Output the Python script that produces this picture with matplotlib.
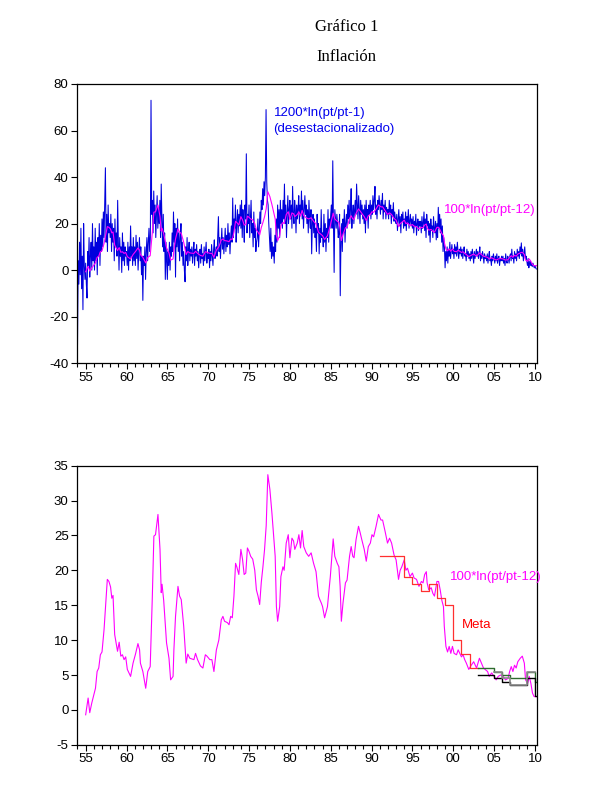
import matplotlib
matplotlib.use("Agg")
import matplotlib.pyplot as plt
from matplotlib.ticker import FixedLocator, MultipleLocator, FuncFormatter
import numpy as np

# ---------------- data ----------------
# Monthly inflation, 1200*ln(pt/pt-1), seasonally adjusted, Jan 1954 .. Mar 2010
blue_start = 1954.0
blue_monthly = [
    -32, 4, -6, 12, -2, 18, -8, 6, -17, 20, 2, -4,          # 1954
    3, -6, -12, 8, 2, 14, -3, 6, 12, 0, 20, 4,              # 1955
    10, 0, 18, 4, 12, -2, 14, 6, 20, 2, 15, 8,              # 1956
    22, 10, 25, 14, 30, 44, 12, 24, 8, 28, 16, 20,          # 1957
    14, 24, 8, 20, 12, 18, 4, 22, 10, 16, 6, 30,            # 1958
    12, 0, 14, 6, 10, -1, 16, 4, 12, 2, 10, 6,              # 1959
    8, 2, 12, 0, 10, 4, 19, 6, 10, 2, 14, 4,                # 1960
    10, 2, 15, 5, 12, 0, 8, 14, 4, 10, -2, 6,               # 1961
    -13, 6, 2, 10, -4, 8, 14, 4, 12, 18, 8, 14,             # 1962
    73, 24, 30, 16, 34, 20, 28, 14, 24, 32, 18, 26,         # 1963
    20, 30, 14, 37, 22, 10, 24, 8, 16, -4, 12, 4,           # 1964
    -4, 8, 2, 12, 0, 10, 6, 16, 8, 25, 12, 20,              # 1965
    -3, 18, 10, 22, 8, 16, 4, 14, 20, 6, 12, 2,             # 1966
    8, 0, -5, 10, 4, 14, 2, 8, 12, 4, 9, 6,                 # 1967
    10, 3, 8, 12, 2, 9, 6, 11, 4, 8, 1, 7,                  # 1968
    9, 3, 11, 5, 7, 2, 10, 4, 8, 12, 3, 7,                  # 1969
    5, 9, 1, 8, 4, 11, 6, 2, 9, 13, 5, 8,                   # 1970
    10, 6, 15, 23, 8, 14, 5, 12, 18, 9, 14, 7,              # 1971
    12, 18, 8, 15, 10, 20, 11, 16, 7, 14, 19, 12,           # 1972
    31, 14, 22, 18, 28, 12, 20, 26, 16, 24, 19, 28,         # 1973
    18, 30, 14, 26, 20, 12, 28, 22, 50, 16, 24, 20,         # 1974
    28, 14, 22, 30, 16, 20, 10, 25, 14, 18, 8, 12,          # 1975
    14, 22, 10, 18, 25, 20, 30, 26, 35, 28, 38, 32,         # 1976
    40, 69, 38, 30, 28, 20, 14, 8, 18, 5, 12, 6,            # 1977
    10, 3, 15, 8, 22, 12, 28, 18, 26, 14, 30, 20,           # 1978
    26, 18, 30, 22, 37, 20, 28, 14, 24, 32, 20, 26,         # 1979
    30, 22, 28, 18, 36, 24, 20, 30, 26, 16, 28, 22,         # 1980
    26, 32, 20, 28, 24, 34, 22, 30, 18, 26, 32, 24,         # 1981
    28, 20, 26, 16, 30, 22, 18, 26, 7, 20, 24, 16,          # 1982
    22, 14, 18, 8, 24, 16, 20, 7, 18, 12, 26, 14,           # 1983
    16, 10, 24, 12, 20, 8, 18, 14, 26, 12, 22, 18,          # 1984
    24, 28, 18, 47, 20, -1, 26, 22, 18, 24, 20, 14,         # 1985
    16, 24, -11, 12, 20, 8, 22, 16, 26, 12, 20, 24,         # 1986
    18, 28, 22, 30, 20, 26, 35, 18, 24, 28, 20, 26,         # 1987
    30, 24, 37, 28, 22, 32, 26, 20, 30, 24, 28, 22,         # 1988
    26, 20, 28, 16, 30, 22, 26, 18, 28, 24, 30, 22,         # 1989
    28, 24, 32, 26, 30, 36, 24, 28, 22, 30, 26, 32,         # 1990
    28, 24, 30, 26, 33, 22, 28, 25, 30, 22, 27, 24,         # 1991
    26, 22, 30, 24, 28, 20, 26, 23, 29, 21, 25, 22,         # 1992
    20, 24, 17, 22, 26, 19, 23, 16, 24, 21, 25, 18,         # 1993
    22, 19, 25, 17, 23, 20, 26, 18, 21, 24, 19, 22,         # 1994
    18, 23, 16, 21, 19, 24, 15, 20, 22, 17, 21, 19,         # 1995
    21, 16, 23, 18, 20, 25, 17, 22, 14, 24, 19, 21,         # 1996
    15, 20, 12, 22, 17, 19, 14, 23, 18, 16, 21, 13,         # 1997
    20, 14, 27, 18, 24, 16, 22, 12, 19, 8, 14, 10,          # 1998
    1, 8, 4, 10, 3, 9, 6, 12, 5, 8, 11, 7,                  # 1999
    9, 5, 11, 7, 10, 6, 12, 8, 5, 9, 7, 10,                 # 2000
    6, 9, 5, 8, 10, 6, 7, 4, 9, 6, 8, 5,                    # 2001
    7, 4, 8, 5, 9, 6, 3, 8, 5, 7, 9, 6,                     # 2002
    8, 5, 7, 10, 4, 7, 5, 8, 6, 3, 7, 5,                    # 2003
    6, 4, 7, 3, 6, 8, 4, 5, 2, 6, 4, 7,                     # 2004
    5, 3, 6, 4, 7, 3, 5, 6, 2, 5, 4, 6,                     # 2005
    4, 6, 3, 5, 2, 7, 4, 3, 6, 5, 3, 6,                     # 2006
    7, 4, 9, 5, 6, 3, 8, 5, 7, 4, 9, 6,                     # 2007
    8, 5, 10, 7, 11.7, 6, 9, 4, 7, 10, 5, 6,                # 2008
    4, 2, 5, 1, 3, 4, 2, 3, 1.5, 3, 2, 1,                   # 2009
    2, 1, 0.5,                                              # 2010
]

# 12-month inflation, 100*ln(pt/pt-12)
pink_years = [1955.0, 1955.3, 1955.5, 1955.75, 1956.2, 1956.4, 1956.6, 1956.8, 1957.0, 1957.25,
              1957.65, 1957.85, 1958.05, 1958.2, 1958.35, 1958.55, 1958.9, 1959.1, 1959.3, 1959.5,
              1959.7, 1959.9, 1960.1, 1960.3, 1960.5, 1960.8, 1961.1, 1961.4, 1961.6, 1961.7,
              1962.0, 1962.35, 1962.6, 1962.9, 1963.15, 1963.35, 1963.55, 1963.85, 1964.1, 1964.25,
              1964.35, 1964.55, 1964.9, 1965.2, 1965.4, 1965.7, 1965.8, 1966.0, 1966.3, 1966.5,
              1966.7, 1967.0, 1967.3, 1967.5, 1967.75, 1968.25, 1968.45, 1968.7, 1969.05, 1969.35,
              1969.65, 1969.85, 1970.2, 1970.45, 1970.7, 1971.0, 1971.3, 1971.6, 1971.8, 1972.0,
              1972.35, 1972.55, 1972.75, 1972.95, 1973.15, 1973.35, 1973.5, 1973.75, 1974.0, 1974.2,
              1974.4, 1974.6, 1974.8, 1975.0, 1975.2, 1975.45, 1975.7, 1975.9, 1976.1, 1976.3,
              1976.5, 1976.7, 1976.9, 1977.1, 1977.3, 1977.55, 1977.8, 1978.0, 1978.2, 1978.35,
              1978.5, 1978.75, 1978.9, 1979.15, 1979.3, 1979.55, 1979.8, 1980.0, 1980.25, 1980.45,
              1980.6, 1980.9, 1981.1, 1981.3, 1981.5, 1981.7, 1982.0, 1982.3, 1982.6, 1982.9,
              1983.2, 1983.5, 1983.7, 1983.85, 1984.0, 1984.25, 1984.45, 1984.6, 1984.95, 1985.3,
              1985.5, 1985.8, 1986.0, 1986.15, 1986.3, 1986.5, 1986.8, 1987.0, 1987.3, 1987.5,
              1987.7, 1987.85, 1988.1, 1988.4, 1988.6, 1988.8, 1989.1, 1989.35, 1989.6, 1989.85,
              1990.05, 1990.25, 1990.55, 1990.85, 1991.15, 1991.35, 1991.65, 1991.95, 1992.2, 1992.45,
              1992.75, 1993.0, 1993.3, 1993.5, 1993.7, 1994.0, 1994.2, 1994.4, 1994.7, 1995.0,
              1995.2, 1995.5, 1995.8, 1996.1, 1996.3, 1996.5, 1996.7, 1996.8, 1997.0, 1997.3,
              1997.5, 1997.7, 1998.0, 1998.2, 1998.4, 1998.6, 1998.8, 1998.9, 1999.1, 1999.3,
              1999.5, 1999.7, 1999.9, 2000.1, 2000.4, 2000.6, 2000.8, 2001.0, 2001.2, 2001.4,
              2001.6, 2001.9, 2002.2, 2002.5, 2002.85, 2003.2, 2003.45, 2003.7, 2003.9, 2004.2,
              2004.4, 2004.7, 2005.0, 2005.25, 2005.5, 2005.8, 2006.1, 2006.4, 2006.7, 2006.9,
              2007.1, 2007.3, 2007.5, 2007.7, 2007.9, 2008.2, 2008.45, 2008.7, 2008.85, 2009.1,
              2009.3, 2009.5, 2009.7, 2009.9, 2010.2]
pink_values = [-0.7, 1.7, -0.4, 1.0, 3.1, 5.5, 6.0, 7.9, 8.3, 11.5,
               18.7, 18.4, 17.6, 16.0, 16.4, 10.8, 8.4, 9.7, 7.7, 7.9,
               7.2, 7.6, 5.8, 5.3, 4.8, 6.7, 8.0, 9.5, 8.6, 6.7,
               5.5, 3.1, 5.5, 6.2, 15.8, 24.9, 25.1, 28.0, 23.0, 16.8,
               18.0, 15.7, 9.6, 7.4, 4.3, 4.8, 8.6, 13.4, 17.7, 16.3,
               15.8, 12.0, 6.7, 8.0, 7.4, 7.2, 8.1, 7.2, 6.3, 6.0,
               7.9, 7.7, 7.2, 7.2, 5.5, 8.6, 10.0, 12.9, 13.4, 12.7,
               12.5, 12.2, 13.4, 13.2, 16.3, 21.0, 20.5, 19.4, 23.0, 21.6,
               19.4, 19.6, 23.2, 22.7, 22.0, 21.6, 20.0, 17.2, 16.3, 15.1,
               18.3, 20.5, 23.0, 26.4, 33.7, 31.6, 28.2, 25.2, 22.0, 14.8,
               12.7, 14.8, 19.1, 20.5, 20.0, 23.9, 25.1, 21.8, 24.6, 24.2,
               23.0, 23.9, 25.1, 23.2, 25.7, 23.4, 22.5, 22.0, 22.5, 21.0,
               19.8, 16.3, 15.7, 15.3, 14.8, 13.2, 14.1, 14.8, 19.1, 24.5,
               22.0, 21.0, 20.5, 17.7, 12.7, 15.3, 18.2, 18.6, 22.0, 23.4,
               22.0, 21.8, 24.4, 26.3, 25.4, 24.4, 23.0, 21.3, 23.4, 23.9,
               25.1, 24.8, 26.3, 28.0, 27.2, 27.2, 25.6, 23.9, 24.6, 23.9,
               22.2, 21.5, 18.7, 20.0, 20.5, 21.5, 20.0, 20.3, 19.1, 19.6,
               18.9, 18.7, 17.7, 18.4, 18.2, 19.4, 19.8, 18.2, 17.2, 17.5,
               16.7, 16.3, 18.4, 18.4, 17.2, 15.7, 14.8, 12.0, 9.1, 8.3,
               9.1, 8.1, 9.1, 8.1, 7.9, 8.6, 8.1, 7.6, 7.9, 7.2,
               6.7, 5.8, 6.4, 6.9, 6.0, 7.4, 6.7, 6.0, 5.8, 5.5,
               4.8, 5.3, 4.8, 4.3, 4.8, 5.0, 4.8, 4.3, 4.5, 5.5,
               6.2, 5.5, 6.4, 6.0, 6.9, 7.4, 7.7, 6.7, 4.3, 3.8,
               4.8, 3.8, 2.4, 1.9, 1.9]

# Inflation target (Meta), point targets 1991-2002
meta_years = [1991, 1992, 1993, 1994, 1995, 1996, 1997, 1998, 1999, 2000, 2001, 2002]
meta_values = [22, 22, 22, 19, 18, 17, 18, 16, 15, 10, 8, 6]
# Target range 2003-2010
band_years = [2003, 2004, 2005, 2006, 2007, 2008, 2009, 2010]
band_upper = [6, 6, 5.5, 5, 4.5, 4.5, 5.5, 4]
band_lower = [5, 5, 4.5, 4, 3.5, 3.5, 4.5, 2]
grey_years = [2005, 2006, 2007, 2008, 2009]
grey_values = [5.5, 4.5, 3.5, 3.5, 5.5]

major_years = [1955, 1960, 1965, 1970, 1975, 1980, 1985, 1990, 1995, 2000, 2005, 2010]

# ---------------- plot ----------------
plt.rcParams['font.family'] = ['Liberation Sans', 'DejaVu Sans']
plt.rcParams['axes.unicode_minus'] = False
fig = plt.figure(figsize=(6.01, 8.0), dpi=100)

ax1 = fig.add_axes([0.128, 0.546, 0.7655, 0.349])
ax2 = fig.add_axes([0.128, 0.069, 0.7655, 0.349])

blue_x = blue_start + np.arange(len(blue_monthly)) / 12.0
ax1.plot(blue_x, blue_monthly, color='#0000dd', lw=0.75)
ax1.plot(pink_years, pink_values, color='#ff00ff', lw=0.8)

ax2.plot(pink_years, pink_values, color='#ff00ff', lw=0.8)
ax2.step(meta_years + [2003], meta_values + [meta_values[-1]], where='post',
         color='#ff3030', lw=0.9)
ax2.step(band_years + [2010.25], band_upper + [band_upper[-1]], where='post',
         color='#2e6b2e', lw=1.0)
ax2.step(band_years + [2010.25], band_lower + [band_lower[-1]], where='post',
         color='#000000', lw=1.0)
ax2.step(grey_years + [2010], grey_values + [grey_values[-1]], where='post',
         color='#8a8a8a', lw=1.2)

fmt = FuncFormatter(lambda v, p: f"{int(round(v)) % 100:02d}")
for ax in (ax1, ax2):
    ax.set_xlim(1953.93, 2010.25)
    ax.xaxis.set_major_locator(FixedLocator(major_years))
    ax.xaxis.set_minor_locator(MultipleLocator(1))
    ax.xaxis.set_major_formatter(fmt)
    ax.tick_params(axis='both', which='major', direction='out', length=4, width=0.8,
                   labelsize=9.5, pad=2)
    ax.tick_params(axis='x', which='minor', direction='out', length=3, width=0.8)
    for s in ax.spines.values():
        s.set_linewidth(0.9)

ax1.set_ylim(-40, 80)
ax1.set_yticks(np.arange(-40, 81, 20))
ax2.set_ylim(-5, 35)
ax2.set_yticks(np.arange(-5, 36, 5))

ax1.text(1978.0, 67.4, '1200*ln(pt/pt-1)', color='#0000ee', fontsize=9.5, va='center', ha='left')
ax1.text(1978.0, 60.5, '(desestacionalizado)', color='#0000ee', fontsize=9.5, va='center', ha='left')
ax1.text(1998.8, 25.8, '100*ln(pt/pt-12)', color='#ff00ff', fontsize=9.5, va='center', ha='left')
ax2.text(1999.6, 19.0, '100*ln(pt/pt-12)', color='#ff00ff', fontsize=9.5, va='center', ha='left')
ax2.text(2001.1, 12.1, 'Meta', color='#ff0000', fontsize=9.5, va='center', ha='left')

fig.text(0.577, 1 - 27 / 800, 'Gráfico 1', family='Liberation Serif', fontsize=12,
         ha='center', va='center')
fig.text(0.577, 1 - 57 / 800, 'Inflación', family='Liberation Serif', fontsize=12,
         ha='center', va='center')

fig.savefig('out.png', dpi=100)
